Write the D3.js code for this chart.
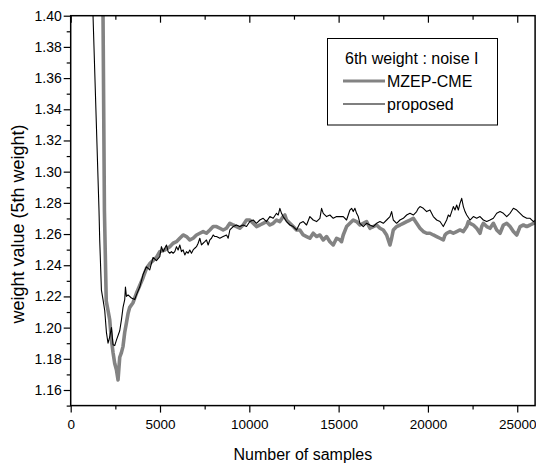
<!DOCTYPE html>
<html><head><meta charset="utf-8">
<script src="https://cdn.jsdelivr.net/npm/d3@7/dist/d3.min.js"></script>
<style>
body{margin:0;background:#fff}
text{font-family:"Liberation Sans",Arial,sans-serif;fill:#000}
</style>
</head><body><svg id="c" width="536" height="466"></svg>
<script>
// ---- data ----
const xMajorTicks=[0,5000,10000,15000,20000,25000];
const xMinorTicks=[2500,7500,12500,17500,22500];
const yMajorTicks=[1.16,1.18,1.20,1.22,1.24,1.26,1.28,1.30,1.32,1.34,1.36,1.38,1.40];
const yMinorTicks=[1.15,1.17,1.19,1.21,1.23,1.25,1.27,1.29,1.31,1.33,1.35,1.37,1.39];
const seriesNames=["MZEP-CME","proposed"];
const legendTitle="6th weight : noise I";
const xTitle="Number of samples";
const yTitle="weight value (5th weight)";

const mzep=[[1750,1.46],[1810,1.40],[1888,1.275],[1990,1.217],[2090,1.211],[2185,1.205],[2280,1.192],[2370,1.184],[2465,1.177],[2560,1.173],[2650,1.1665],[2745,1.181],[2840,1.184],[2930,1.188],[3025,1.197],[3120,1.203],[3210,1.209],[3305,1.213],[3490,1.216],[3680,1.222],[3865,1.227],[4050,1.232],[4240,1.238],[4425,1.241],[4800,1.245],
[4987,1.2487],[5267,1.2498],[5547,1.2519],[5734,1.2541],[5921,1.2551],[6108,1.2573],[6295,1.2594],[6481,1.2584],[6668,1.2562],[6855,1.2573],[7042,1.2594],[7229,1.2605],[7415,1.2616],[7602,1.2605],[7789,1.2626],[7976,1.2648],[8163,1.2648],[8349,1.2637],[8536,1.2626],[8723,1.2637],[8910,1.2669],[9097,1.2658],[9283,1.2648],[9470,1.2637],[9657,1.2658],[9844,1.2690],
[10029,1.2690],[10216,1.2669],[10403,1.2648],[10589,1.2658],[10776,1.2669],[10963,1.2680],[11150,1.2658],[11337,1.2669],[11523,1.2690],[11710,1.2680],[11897,1.2712],[11990,1.2722],[12084,1.2690],[12271,1.2669],[12457,1.2648],[12644,1.2626],[12831,1.2626],[13018,1.2594],[13205,1.2584],[13391,1.2573],[13578,1.2605],[13765,1.2584],[13952,1.2594],[14139,1.2562],[14325,1.2584],[14512,1.2551],[14699,1.2530],[14886,1.2573],[15073,1.2562],
[15165,1.2551],[15259,1.2594],[15446,1.2648],[15632,1.2669],[15819,1.2690],[16006,1.2680],[16193,1.2658],[16380,1.2669],[16566,1.2680],[16753,1.2637],[16940,1.2648],[17127,1.2658],[17314,1.2637],[17500,1.2626],[17687,1.2594],[17874,1.2530],[17967,1.2573],[18061,1.2626],[18248,1.2648],[18434,1.2658],[18621,1.2669],[18808,1.2680],[18995,1.2690],[19182,1.2701],[19368,1.2669],[19555,1.2637],[19742,1.2616],[19929,1.2605],
[20115,1.2605],[20302,1.2594],[20489,1.2584],[20675,1.2573],[20862,1.2562],[20956,1.2594],[21049,1.2605],[21236,1.2616],[21423,1.2605],[21609,1.2616],[21796,1.2626],[21983,1.2616],[22170,1.2648],[22263,1.2680],[22357,1.2669],[22543,1.2658],[22730,1.2637],[22917,1.2605],[23010,1.2648],[23104,1.2669],[23291,1.2648],[23477,1.2637],[23664,1.2669],[23851,1.2626],[24038,1.2605],[24225,1.2658],[24411,1.2669],[24598,1.2648],[24785,1.2616],[24972,1.2594],[25159,1.2648],[25345,1.2658],[25532,1.2648],[25719,1.2658],[25906,1.2669],[26055,1.2669]];

const proposed=[[1000,1.493],[1250,1.400],[1585,1.275],[1625,1.256],[1720,1.224],[1810,1.218],[1905,1.211],[2000,1.197],[2090,1.190],[2185,1.194],[2280,1.200],[2370,1.189],[2465,1.1885],[2560,1.192],[2745,1.198],[2840,1.205],[2930,1.213],[3025,1.218],[3065,1.226],[3120,1.220],[3210,1.221],[3400,1.219],[3585,1.218],[3680,1.221],[3865,1.226],[4050,1.234],[4240,1.239],[4425,1.237],[4610,1.245],[4800,1.243],
[4987,1.2455],[5080,1.2519],[5174,1.2487],[5267,1.2509],[5361,1.2530],[5454,1.2487],[5547,1.2477],[5640,1.2487],[5734,1.2477],[5827,1.2487],[5921,1.2519],[6014,1.2498],[6108,1.2530],[6201,1.2487],[6295,1.2498],[6388,1.2466],[6481,1.2487],[6575,1.2477],[6668,1.2498],[6761,1.2477],[6855,1.2498],[6948,1.2509],[7042,1.2519],[7135,1.2541],[7229,1.2573],[7322,1.2530],[7415,1.2541],[7509,1.2551],[7602,1.2562],[7695,1.2530],[7789,1.2562],[7882,1.2573],[7976,1.2594],[8070,1.2584],[8163,1.2584],[8349,1.2573],[8536,1.2584],[8723,1.2594],[8816,1.2573],[8910,1.2626],[9097,1.2648],[9283,1.2658],[9470,1.2648],[9657,1.2658],[9844,1.2648],
[10029,1.2680],[10216,1.2690],[10403,1.2669],[10589,1.2690],[10776,1.2701],[10963,1.2680],[11150,1.2712],[11337,1.2701],[11523,1.2733],[11617,1.2722],[11710,1.2765],[11804,1.2733],[11897,1.2712],[12084,1.2680],[12271,1.2658],[12457,1.2648],[12644,1.2626],[12831,1.2669],[13018,1.2680],[13205,1.2658],[13391,1.2712],[13578,1.2690],[13765,1.2680],[13952,1.2701],[14045,1.2765],[14139,1.2733],[14325,1.2712],[14512,1.2722],[14699,1.2701],[14886,1.2712],[15073,1.2712],
[15259,1.2712],[15446,1.2690],[15539,1.2722],[15632,1.2754],[15726,1.2765],[15819,1.2744],[15913,1.2765],[16006,1.2733],[16099,1.2712],[16193,1.2669],[16380,1.2648],[16566,1.2669],[16753,1.2658],[16940,1.2648],[17127,1.2669],[17314,1.2680],[17500,1.2669],[17687,1.2690],[17874,1.2712],[17967,1.2744],[18061,1.2690],[18248,1.2669],[18434,1.2690],[18621,1.2701],[18808,1.2722],[18995,1.2733],[19182,1.2722],[19368,1.2744],[19462,1.2765],[19555,1.2776],[19742,1.2765],[19929,1.2744],
[20115,1.2754],[20302,1.2712],[20489,1.2690],[20675,1.2680],[20862,1.2648],[21049,1.2690],[21142,1.2722],[21236,1.2712],[21329,1.2744],[21423,1.2776],[21516,1.2754],[21609,1.2786],[21703,1.2754],[21796,1.2797],[21890,1.2829],[21983,1.2776],[22076,1.2744],[22170,1.2722],[22357,1.2690],[22543,1.2712],[22730,1.2701],[22917,1.2712],[23104,1.2690],[23291,1.2680],[23477,1.2690],[23664,1.2701],[23851,1.2733],[24038,1.2744],[24225,1.2733],[24411,1.2712],[24598,1.2733],[24785,1.2765],[24972,1.2754],[25159,1.2733],[25345,1.2712],[25532,1.2701],[25719,1.2701],[25906,1.2680],[26055,1.2690]];

// ---- drawing ----
const svg=d3.select("#c");
const L=70.7,R=535.1,T=15.7,B=405.6;
const x=d3.scaleLinear().domain([0,26000]).range([L,R]);
const y=d3.scaleLinear().domain([1.15,1.40]).range([B,T]);

svg.append("rect").attr("width",536).attr("height",466).attr("fill","#fff");
svg.append("clipPath").attr("id","clip").append("rect")
  .attr("x",L).attr("y",T).attr("width",R-L).attr("height",B-T);

const line=d3.line().x(d=>x(d[0])).y(d=>y(d[1]));
const plot=svg.append("g").attr("clip-path","url(#clip)");
plot.append("path").datum(mzep).attr("d",line).attr("fill","none")
  .attr("stroke","#838383").attr("stroke-width",3.6).attr("stroke-linejoin","round");
plot.append("path").datum(proposed).attr("d",line).attr("fill","none")
  .attr("stroke","#000").attr("stroke-width",1.1).attr("stroke-linejoin","round");

function style(g){
  g.selectAll("line").attr("stroke","#000").attr("stroke-width",1.2);
  g.select(".domain").remove();
  g.selectAll("text").style("font-size","13.5px").attr("fill","#000");
}
// bottom axis
svg.append("g").attr("transform",`translate(0,${B})`)
  .call(d3.axisBottom(x).tickValues(xMajorTicks).tickSize(7).tickPadding(7).tickFormat(d3.format("d")))
  .call(style);
svg.append("g").attr("transform",`translate(0,${B})`)
  .call(d3.axisBottom(x).tickValues(xMinorTicks).tickSize(4).tickFormat(""))
  .call(style);
// top axis (inward)
svg.append("g").attr("transform",`translate(0,${T})`)
  .call(d3.axisTop(x).tickValues(xMajorTicks).tickSize(-7).tickFormat(""))
  .call(style);
svg.append("g").attr("transform",`translate(0,${T})`)
  .call(d3.axisTop(x).tickValues(xMinorTicks).tickSize(-4).tickFormat(""))
  .call(style);
// left axis
svg.append("g").attr("transform",`translate(${L},0)`)
  .call(d3.axisLeft(y).tickValues(yMajorTicks).tickSize(7).tickPadding(2).tickFormat(d3.format(".2f")))
  .call(style).selectAll("text").style("font-size","14px");
svg.append("g").attr("transform",`translate(${L},0)`)
  .call(d3.axisLeft(y).tickValues(yMinorTicks).tickSize(4).tickFormat(""))
  .call(style);

// frame
svg.append("rect").attr("x",L).attr("y",T).attr("width",R-L).attr("height",B-T)
  .attr("fill","none").attr("stroke","#000").attr("stroke-width",1.5);

// titles
svg.append("text").attr("x",(L+R)/2).attr("y",460).attr("text-anchor","middle")
  .style("font-size","16px").text(xTitle);
svg.append("text").attr("transform","translate(24,224) rotate(-90)").attr("text-anchor","middle")
  .style("font-size","18px").text(yTitle);

// legend
const lg=svg.append("g");
lg.append("rect").attr("x",327.5).attr("y",38.5).attr("width",170).attr("height",86.5)
  .attr("fill","#fff").attr("stroke","#000").attr("stroke-width",1);
lg.append("text").attr("x",345).attr("y",64).style("font-size","16px").text(legendTitle);
const lstyles=[{c:"#838383",w:3.2,y:81},{c:"#000",w:1.1,y:104}];
seriesNames.forEach((n,i)=>{
  const s=lstyles[i];
  lg.append("line").attr("x1",343).attr("x2",385).attr("y1",s.y).attr("y2",s.y)
    .attr("stroke",s.c).attr("stroke-width",s.w);
  lg.append("text").attr("x",387).attr("y",s.y+5.5).style("font-size","16px").text(n);
});
</script></body></html>
